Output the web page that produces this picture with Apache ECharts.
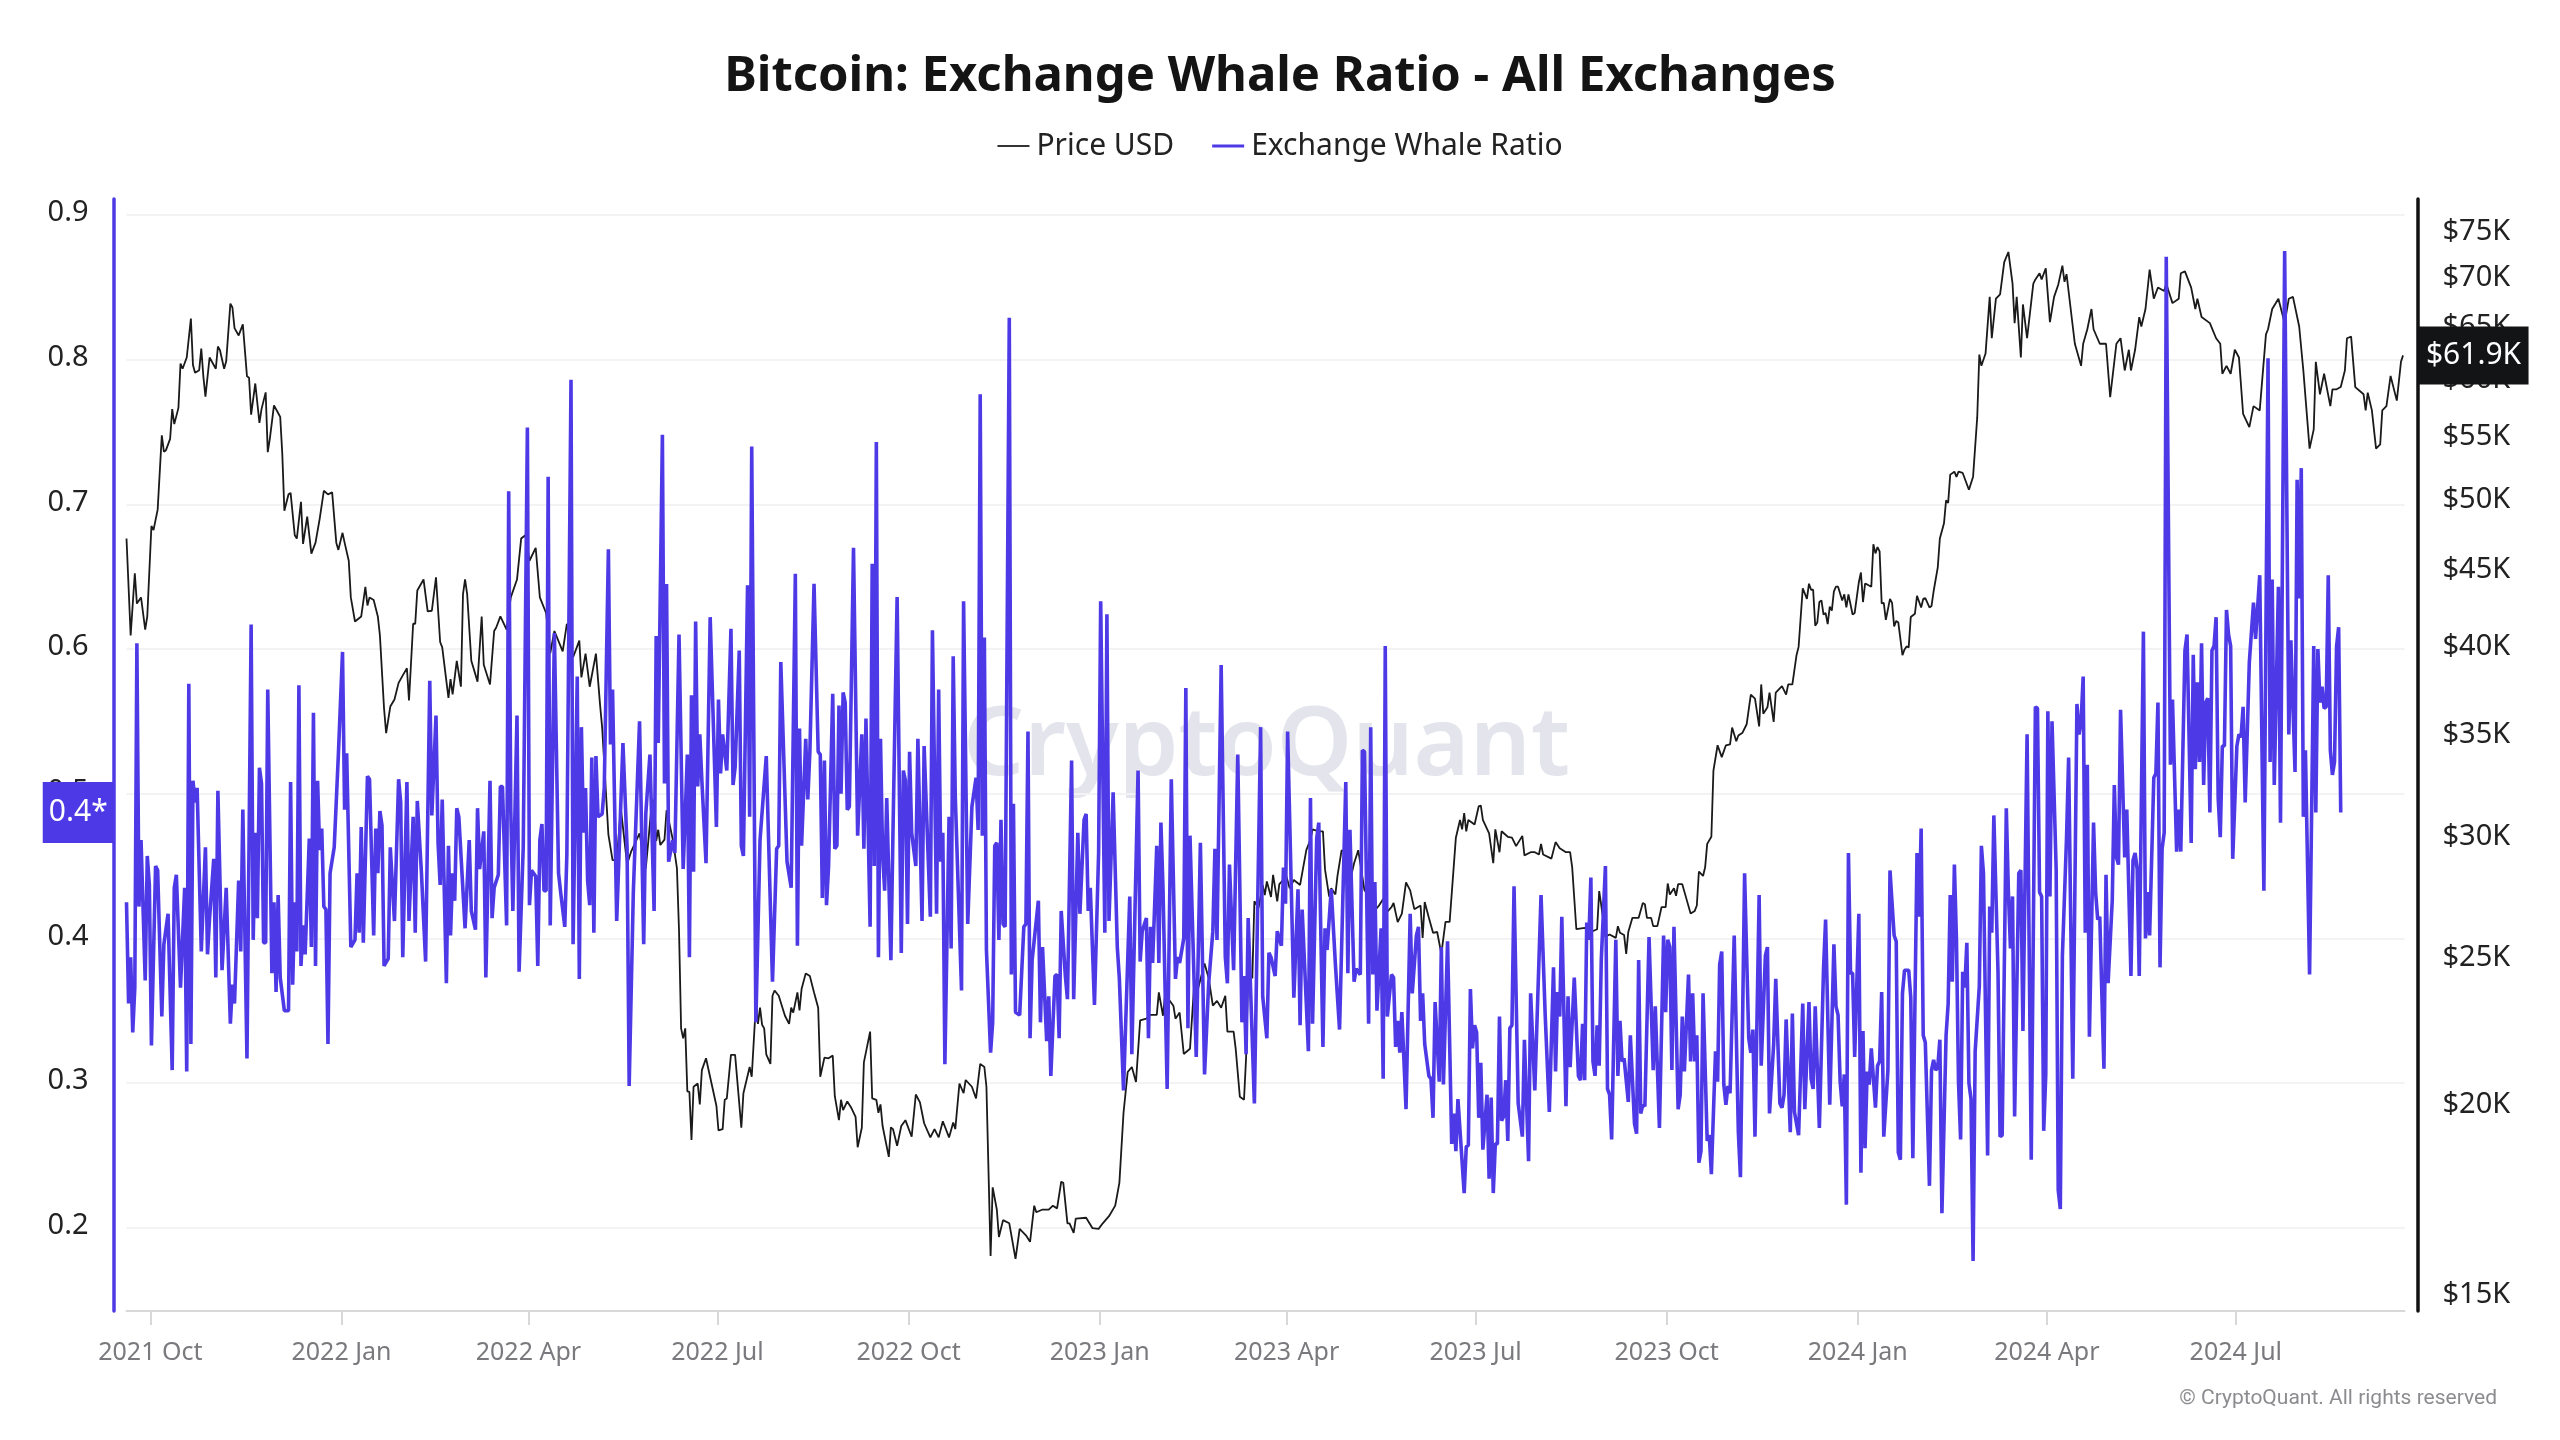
<!DOCTYPE html>
<html><head><meta charset="utf-8"><style>html,body{margin:0;padding:0;background:#fff}#c{width:2560px;height:1440px}</style>
<script src="https://cdn.jsdelivr.net/npm/echarts@6/dist/echarts.min.js"></script></head><body><div id="c"></div>
<script>
const titleText = 'Bitcoin: Exchange Whale Ratio - All Exchanges';
const priceName = 'Price USD';
const ratioName = 'Exchange Whale Ratio';
const tickDates = ['2021-10-01','2022-01-01','2022-04-01','2022-07-01','2022-10-01','2023-01-01','2023-04-01','2023-07-01','2023-10-01','2024-01-01','2024-04-01','2024-07-01'];
const tickLabels = ['2021 Oct','2022 Jan','2022 Apr','2022 Jul','2022 Oct','2023 Jan','2023 Apr','2023 Jul','2023 Oct','2024 Jan','2024 Apr','2024 Jul'];
const ratioTicks = [0.2,0.3,0.4,0.5,0.6,0.7,0.8,0.9];
const priceTicks = [15000,20000,25000,30000,35000,40000,45000,50000,55000,60000,65000,70000,75000];
const startDay = Date.UTC(2021,8,19,12);
// [day since start, whale ratio]
const ratioPoints = [[0,.425],[1,.355],[2,.387],[3,.335],[4,.366],[5,.604],[6,.422],[7,.468],[9,.371],[10,.457],[11,.437],[12,.326],[14,.45],[15,.447],[17,.346],[18,.396],[20,.417],[22,.309],[23,.435],[24,.444],[26,.366],[28,.435],[29,.308],[30,.576],[31,.327],[32,.509],[33,.494],[34,.504],[36,.391],[38,.463],[39,.389],[40,.414],[42,.455],[43,.373],[44,.502],[46,.378],[48,.435],[50,.341],[51,.368],[52,.355],[54,.44],[55,.391],[56,.489],[58,.317],[60,.617],[61,.399],[62,.473],[63,.414],[64,.518],[65,.507],[66,.397],[67,.397],[68,.572],[70,.376],[71,.425],[72,.363],[73,.43],[74,.373],[76,.35],[78,.35],[79,.508],[80,.368],[81,.425],[82,.391],[83,.575],[84,.381],[85,.409],[86,.389],[88,.469],[89,.394],[90,.556],[91,.381],[92,.509],[93,.461],[94,.476],[95,.422],[96,.42],[97,.327],[98,.445],[100,.463],[102,.527],[104,.598],[105,.489],[106,.528],[108,.394],[110,.399],[111,.445],[112,.404],[113,.477],[114,.397],[116,.512],[117,.51],[119,.402],[120,.476],[121,.445],[122,.488],[123,.478],[124,.381],[126,.386],[127,.463],[129,.412],[131,.51],[132,.494],[133,.387],[135,.508],[136,.412],[138,.484],[139,.404],[140,.495],[142,.445],[144,.384],[146,.578],[147,.485],[149,.554],[150,.466],[151,.437],[152,.496],[154,.369],[155,.464],[156,.402],[157,.445],[158,.426],[159,.49],[160,.484],[163,.407],[165,.468],[166,.419],[168,.406],[169,.49],[170,.448],[172,.474],[173,.373],[175,.509],[176,.414],[177,.435],[179,.444],[180,.505],[181,.505],[183,.409],[184,.709],[185,.489],[186,.419],[188,.554],[189,.377],[191,.463],[193,.753],[194,.423],[195,.447],[197,.443],[198,.381],[199,.468],[200,.479],[201,.433],[202,.433],[203,.719],[204,.409],[206,.611],[208,.445],[209,.432],[211,.408],[212,.458],[214,.786],[215,.396],[217,.581],[218,.372],[219,.546],[220,.473],[221,.504],[222,.44],[223,.423],[224,.525],[225,.404],[226,.526],[227,.484],[229,.486],[230,.504],[232,.669],[233,.534],[234,.572],[236,.412],[239,.535],[241,.463],[242,.298],[244,.432],[247,.55],
[249,.396],[250,.486],[252,.527],[254,.419],[255,.609],[256,.535],[258,.748],[259,.507],[260,.645],[261,.453],[263,.468],[264,.459],[266,.61],[268,.448],[269,.486],[270,.527],[271,.387],[272,.568],[273,.446],[274,.619],[275,.505],[276,.541],[277,.509],[279,.452],[281,.622],[284,.477],[285,.565],[286,.514],[287,.541],[289,.516],[291,.614],[292,.506],[293,.518],[295,.599],[296,.464],[297,.457],[299,.644],[300,.484],[301,.74],[303,.342],[305,.468],[308,.526],[311,.37],[313,.462],[314,.464],[315,.591],[318,.453],[320,.435],[322,.652],[323,.395],[324,.545],[325,.464],[327,.538],[328,.496],[329,.529],[331,.645],[333,.529],[334,.527],[335,.428],[336,.523],[337,.423],[338,.45],[340,.569],[341,.462],[342,.464],[343,.561],[344,.5],[345,.57],[346,.563],[347,.489],[348,.491],[350,.67],[352,.471],[354,.541],[355,.462],[356,.552],[358,.408],[359,.659],[360,.45],[361,.743],[362,.387],[363,.538],[364,.459],[365,.433],[366,.497],[368,.385],[369,.473],[371,.636],[373,.39],[374,.516],[375,.509],[376,.41],[377,.529],[378,.473],[380,.45],[381,.538],[383,.412],[384,.533],[387,.415],[388,.613],[390,.417],[391,.572],[392,.453],[393,.473],[394,.313],[396,.484],[397,.393],[398,.595],[399,.498],[402,.364],[403,.633],[405,.41],[407,.491],[409,.511],[410,.475],[411,.776],[412,.471],[413,.608],[414,.392],[416,.321],[417,.342],[418,.464],[419,.466],[420,.399],[421,.482],[422,.41],[423,.408],[425,.829],[426,.375],[427,.493],[428,.349],[430,.347],[432,.408],[433,.41],[434,.543],[435,.331],[436,.385],[439,.426],[440,.342],[441,.394],[443,.329],[444,.36],[445,.305],[447,.374],[448,.375],[449,.331],[450,.419],[452,.374],[453,.358],[455,.523],[456,.358],[458,.473],[459,.417],[461,.482],[462,.486],[463,.419],[464,.435],[466,.354],[468,.459],[469,.633],[471,.404],[472,.624],[473,.412],[475,.501],[477,.394],[478,.372],[480,.295],[483,.429],[484,.32],[487,.516],[488,.384],[489,.405],[491,.414],[492,.331],[493,.408],[494,.383],[496,.464],[497,.383],[498,.48],[499,.435],[501,.296],[503,.51],[505,.372],[506,.387],[507,.383],[509,.4],[510,.573],[511,.338],[512,.471],[515,.318],[517,.466],[519,.306],[521,.369],[523,.405],[524,.462],[525,.399],[527,.589],[529,.387],[530,.369],[531,.451],[533,.378],[535,.527],[537,.342],[538,.374],[539,.32],[540,.414],[541,.372],[543,.286],[546,.546],[547,.36],[549,.331],[550,.39],[551,.387],[553,.374],[554,.405],
[556,.395],[557,.449],[558,.424],[559,.543],[562,.359],[564,.434],[565,.34],[566,.42],[569,.322],[570,.497],[571,.341],[573,.469],[574,.48],[576,.325],[577,.407],[578,.392],[580,.434],[582,.382],[584,.337],[587,.508],[588,.376],[589,.475],[591,.37],[592,.379],[594,.375],[595,.53],[596,.529],[598,.341],[599,.546],[600,.375],[601,.439],[602,.35],[604,.407],[605,.303],[606,.602],[607,.346],[609,.375],[610,.373],[611,.325],[612,.343],[613,.321],[614,.349],[616,.282],[618,.417],[619,.362],[621,.402],[622,.408],[623,.343],[624,.362],[625,.327],[627,.305],[628,.303],[629,.276],[630,.356],[632,.301],[633,.394],[634,.299],[636,.398],[638,.258],[639,.279],[640,.253],[641,.289],[644,.224],[645,.256],[646,.257],[647,.365],[648,.324],[649,.34],[650,.335],[651,.276],[652,.314],[653,.254],[655,.292],[656,.234],[657,.29],[658,.224],[659,.258],[660,.258],[661,.346],[662,.274],[663,.277],[664,.302],[665,.26],[666,.338],[667,.34],[668,.436],[670,.286],[672,.263],[673,.33],[675,.246],[676,.362],[678,.295],[681,.43],[683,.347],[685,.28],[687,.38],[688,.308],[689,.363],[690,.346],[691,.415],[693,.284],[694,.36],[695,.311],[697,.373],[699,.305],[700,.302],[701,.341],[702,.302],[703,.411],[704,.399],[705,.442],[706,.315],[707,.305],[708,.34],[709,.312],[710,.385],[712,.45],[713,.296],[714,.292],[715,.261],[717,.399],[718,.305],[719,.343],[720,.315],[721,.317],[723,.287],[724,.333],[726,.272],[727,.265],[728,.385],[729,.279],[730,.285],[731,.284],[733,.401],[735,.309],[736,.353],[738,.269],[740,.402],[741,.349],[742,.399],[743,.394],[744,.309],[745,.408],[747,.282],[748,.292],[749,.346],[750,.308],[752,.375],[753,.315],[754,.362],[755,.315],[756,.333],[757,.245],[758,.253],[759,.362],[761,.26],[762,.264],[763,.237],[765,.322],[766,.301],[767,.382],[768,.391],[769,.299],[770,.285],[771,.298],[772,.293],[774,.402],[776,.266],[777,.235],[779,.445],[781,.331],[782,.321],[783,.337],[784,.263],[786,.43],[787,.312],[789,.388],[790,.394],[791,.279],[793,.327],[794,.372],[796,.286],[797,.283],[798,.292],[799,.344],[801,.266],[802,.348],[803,.28],[805,.264],[807,.355],[808,.282],[810,.356],[811,.303],[812,.296],[813,.353],[815,.269],[817,.379],[818,.413],[820,.285],[822,.396],[823,.353],[824,.347],[825,.301],[826,.284],[827,.306],[828,.216],[829,.459],[830,.376],[831,.376],[832,.318],[834,.417],[835,.238],[836,.336],[837,.255],[838,.308],[839,.299],[840,.324],[842,.283],[843,.312],[844,.315],[845,.363],[846,.263],[848,.309],[849,.447],[851,.402],[852,.398],[853,.252],[854,.247],[855,.362],[856,.378],[858,.378],[859,.359],[860,.248],[862,.459],[863,.415],
[864,.476],[865,.333],[866,.328],[868,.229],[869,.309],[870,.316],[871,.309],[872,.311],[873,.33],[874,.21],[876,.333],[877,.355],[878,.43],[879,.37],[880,.451],[881,.399],[882,.3],[883,.261],[884,.377],[885,.366],[886,.397],[887,.3],[888,.289],[889,.177],[890,.322],[892,.367],[893,.464],[894,.445],[896,.25],[897,.422],[898,.404],[899,.485],[901,.377],[902,.263],[903,.264],[905,.49],[906,.432],[907,.393],[908,.429],[909,.277],[911,.445],[912,.447],[913,.336],[915,.541],[917,.247],[919,.56],[920,.559],[921,.432],[922,.429],[923,.267],[924,.306],[925,.557],[926,.429],[927,.55],[929,.448],[930,.226],[931,.213],[932,.388],[934,.47],[935,.525],[937,.303],[939,.562],[940,.541],[941,.55],[942,.581],[943,.404],[944,.52],[945,.332],[947,.48],[948,.432],[949,.413],[950,.415],[951,.361],[952,.31],[953,.444],[954,.369],[956,.426],[957,.506],[958,.456],[959,.451],[960,.558],[962,.456],[963,.489],[965,.374],[966,.454],[967,.459],[968,.448],[969,.374],[971,.612],[972,.4],[973,.432],[974,.402],[976,.511],[977,.514],[978,.563],[979,.38],[980,.462],[981,.473],[982,.871],[984,.52],[985,.565],[987,.46],[988,.489],[989,.46],[991,.599],[992,.61],[994,.466],[995,.596],[996,.517],[997,.577],[998,.522],[999,.604],[1000,.506],[1001,.563],[1002,.566],[1003,.487],[1004,.599],[1005,.602],[1006,.622],[1007,.497],[1008,.47],[1009,.533],[1010,.533],[1011,.627],[1012,.61],[1013,.602],[1014,.455],[1016,.533],[1017,.541],[1018,.539],[1019,.56],[1020,.494],[1022,.591],[1024,.632],[1025,.607],[1027,.651],[1029,.433],[1031,.801],[1032,.522],[1033,.648],[1034,.506],[1036,.643],[1037,.48],[1039,.875],[1041,.541],[1042,.606],[1044,.515],[1045,.717],[1046,.635],[1047,.725],[1048,.484],[1049,.53],[1051,.375],[1053,.602],[1054,.487],[1055,.6],[1056,.563],[1057,.574],[1058,.559],[1059,.56],[1060,.651],[1061,.53],[1062,.513],[1063,.522],[1064,.602],[1065,.615],[1066,.487]];
// [day since start, price USD]
const pricePoints = [[0,46900],[2,40500],[4,44500],[5,42500],[7,42900],[9,40850],[10,41680],[12,47800],[13,47500],[15,49000],[17,54840],[18,53500],[19,53620],[21,54550],[22,57060],[23,55780],[25,57170],[26,61140],[27,60660],[29,61700],[31,65450],[32,61000],[33,60300],[35,60530],[36,62550],[37,59970],[38,58150],[40,61700],[43,60660],[44,62740],[45,62390],[47,60660],[48,61350],[50,66950],[51,66560],[52,64510],[54,63800],[56,64880],[58,59970],[59,59840],[60,56590],[62,59320],[64,55890],[65,57060],[67,58530],[68,53460],[69,54550],[71,57380],[73,56730],[74,56400],[75,53320],[76,48920],[78,50150],[79,50260],[81,47140],[82,46900],[84,49590],[85,46520],[87,48480],[89,45840],[91,46610],[93,48320],[95,50420],[97,50150],[99,50300],[101,46610],[102,46100],[104,47310],[105,46610],[107,45350],[108,42900],[110,41360],[113,41680],[115,43590],[116,42380],[117,42900],[119,42730],[121,41680],[122,40500],[124,36240],[125,34930],[127,36360],[129,36750],[131,37690],[133,38120],[135,38530],[136,36700],[138,41220],[139,41220],[140,43350],[143,44080],[145,42000],[147,42040],[149,44230],[151,40100],[152,39770],[155,36840],[156,37900],[157,37040],[159,38970],[161,37470],[162,43120],[163,44080],[164,43120],[166,38970],[169,37760],[171,41680],[172,38740],[175,37600],[177,40770],[178,40990],[180,41680],[183,40850],[185,42900],[188,44080],[190,46900],[192,47140],[194,45350],[197,46250],[199,42900],[202,41900],[204,39420],[206,40770],[210,39530],[212,41220],[215,39180],[218,40180],[219,38000],[221,39400],[223,37470],[226,39400],[228,36440],[229,35220],[232,29950],[234,28810],[236,28810],[238,31150],[241,28640],[243,29200],[247,30000],
[250,28450],[251,29430],[253,31540],[254,31540],[255,29660],[256,30170],[257,29480],[259,29720],[260,31070],[262,30170],[263,29720],[265,28450],[266,25890],[267,22330],[268,22000],[269,22330],[270,20300],[271,20280],[272,18860],[273,20440],[275,20540],[276,19900],[277,20960],[279,21340],[282,20440],[284,19860],[285,19130],[287,19170],[288,20040],[289,20080],[291,21450],[293,21450],[296,19210],[297,20240],[300,21060],[301,20750],[303,23150],[304,22480],[305,23040],[306,22450],[307,22330],[308,21470],[310,21160],[311,23460],[312,23650],[314,23460],[317,22760],[319,22480],[320,23040],[321,22870],[323,23580],[324,22950],[325,23700],[327,24270],[329,24170],[331,23580],[333,23040],[334,20750],[336,21360],[338,21340],[340,21430],[341,20150],[343,19430],[344,20040],[345,19730],[347,19990],[349,19790],[351,19530],[352,18650],[354,19210],[355,21210],[358,22220],[359,20080],[361,20040],[362,19650],[363,19900],[364,19260],[367,18380],[368,19220],[369,19170],[371,18690],[373,19260],[375,19430],[378,18950],[380,20200],[382,19960],[384,19340],[387,18930],[389,19170],[391,18930],[393,19400],[396,18930],[398,19360],[399,19170],[401,20540],[403,20240],[404,20650],[407,20440],[409,20080],[411,21160],[413,21060],[414,20440],[416,15820],[417,17550],[419,16970],[420,16280],[422,16700],[425,16620],[428,15750],[430,16480],[433,16320],[435,16160],[437,17070],[438,16900],[441,16970],[444,16970],[446,17070],[448,17000],[450,17700],[451,17670],[453,16620],[454,16620],[456,16380],[457,16740],[462,16760],[465,16500],[468,16480],[470,16620],[473,16800],[476,17070],[478,17670],[480,19650],[482,20900],[484,21060],[486,20590],[488,22600],[491,22660],[493,22790],[496,22790],[497,23580],[499,22760],[500,23510],[504,23110],[505,22660],[507,22870],[509,21480],[512,21650],[514,23850],[515,23460],[519,24640],[521,24090],[523,23110],[525,23280],[527,23040],[529,23460],[530,22220],[533,22220],[534,21650],[536,20130],[538,20040],[539,21360],[540,24270],[542,24090],[543,27070],[545,26800],[547,27740],[548,27330],[549,27900],[551,27250],[552,28180],[554,27070],
[555,27780],[557,27960],[558,28230],[560,27610],[562,27960],[565,27750],[568,29250],[570,29720],[571,30190],[574,30100],[576,30100],[577,28410],[579,27260],[580,27610],[582,27350],[583,28130],[585,29250],[588,29060],[589,27920],[591,28680],[593,29250],[596,27520],[598,27350],[600,26600],[603,26900],[605,27170],[607,26650],[609,26830],[610,27000],[612,26230],[614,26570],[616,27860],[618,27520],[620,26750],[623,26900],[624,25610],[625,27040],[627,26400],[629,25810],[631,25840],[633,25000],[635,26240],[637,26240],[640,29810],[642,30620],[643,30190],[644,30940],[645,30100],[646,30620],[649,30410],[651,31260],[652,31300],[653,30620],[656,30000],[658,28680],[659,30190],[661,29160],[662,30100],[665,29850],[667,29810],[669,29430],[672,29890],[673,29020],[676,29160],[678,29160],[680,29060],[681,29530],[682,29060],[686,28880],[688,29610],[690,29340],[693,29160],[695,29160],[696,28500],[698,25950],[702,26000],[705,25840],[708,25950],[709,27490],[710,26900],[712,25660],[714,25740],[717,25610],[718,26070],[719,25810],[721,25720],[722,25000],[723,25840],[725,26400],[728,26400],[730,27000],[731,26950],[732,26400],[734,26400],[735,26070],[737,26070],[739,26830],[741,26830],[742,27810],[743,27350],[745,27610],[746,27300],[747,27780],[749,27780],[751,27170],[753,26570],[755,26680],[756,26900],[757,28320],[759,28130],[760,28500],[761,29530],[763,29850],[764,33000],[766,34290],[768,33680],[770,34290],[772,34340],[773,35220],[775,34500],[776,34800],[778,34950],[780,35400],[782,37020],[784,36800],[786,35280],[787,37600],[788,35970],[790,36320],[791,37140],[793,35520],[794,37140],[797,37500],[799,37020],[800,37600],[802,37600],[804,39300],[805,39800],
[807,43500],[809,42800],[810,43800],[811,43400],[812,43400],[813,41100],[814,41300],[815,42600],[816,42700],[817,41800],[818,41900],[819,41200],[820,42300],[821,42050],[822,43300],[823,43600],[824,43600],[826,42700],[827,43100],[828,42250],[829,43100],[831,41800],[832,41900],[834,43900],[835,44550],[836,42600],[837,43800],[838,43750],[840,43600],[841,46500],[842,45860],[843,46300],[844,46000],[845,42510],[846,42550],[847,41460],[849,42800],[850,42550],[851,41050],[852,41400],[853,41300],[855,39300],[856,39650],[857,39830],[858,39770],[859,41640],[861,41850],[862,43000],[864,42250],[865,42800],[866,42850],[868,42250],[869,42350],[870,43300],[872,44900],[873,46900],[875,48000],[876,49700],[877,49500],[878,51670],[880,51900],[881,51500],[882,51900],
[884,51800],[887,50500],[889,51510],[891,56370],[892,61980],[893,60930],[895,62070],[897,67640],[898,63530],[900,67450],[902,67900],[904,71300],[906,72400],[908,69000],[909,65000],[910,67640],[912,61700],[913,66870],[915,63530],[918,69000],[919,69450],[921,70100],[922,69450],[924,70630],[926,65100],[928,67640],[930,68900],[932,70920],[933,69200],[934,70000],[937,64670],[938,63000],[941,60930],[942,63000],[944,64400],[946,66410],[947,64400],[950,63000],[953,63000],[955,58100],[958,63000],[960,63530],[962,60500],[964,62430],[965,60500],[967,62430],[969,65600],[970,64670],[972,66410],[974,70500],[976,67450],[978,68600],[981,68250],[982,69000],[985,67000],[988,67450],[989,70100],[991,70300],[994,68600],[996,66410],[997,67450],[999,65600],[1003,65000],[1006,63530],[1008,63000],[1009,60200],[1011,60930],[1013,60200],[1015,62430],[1017,61700],[1019,56660],[1022,55530],[1024,57320],[1027,56950],[1030,63900],[1031,64400],[1033,66410],[1036,67450],[1039,65000],[1041,67450],[1043,67640],[1046,64670],[1048,60500],[1051,53750],[1053,55340],[1054,61300],[1056,58360],[1058,60200],[1061,57320],[1062,58800],[1064,58800],[1066,59000],[1068,60500],[1069,63530],[1071,63680],[1073,59000],[1077,58360],[1078,56950],[1079,58500],[1081,56950],[1083,53750],[1085,54100],[1086,56950],[1088,57320],[1090,60000],[1093,57800],[1095,61300],[1096,61900]];

const DAY = 86400000;
const toTime = p => [startDay + p[0]*DAY, p[1]];
const priceData = pricePoints.map(toTime);
const ratioData = ratioPoints.map(toTime);
const lastPrice = priceData[priceData.length-1];
const lastRatio = ratioData[ratioData.length-1];
const tickTimes = tickDates.map(s => Date.parse(s+'T00:00:00Z'));
const FONT = '"Noto Sans"';
const BLUE = '#4d3ae6';
const chart = echarts.init(document.getElementById('c'), null, {renderer:'canvas'});
chart.setOption({
  animation:false, backgroundColor:'#fff',
  textStyle:{fontFamily:FONT},
  title:{text:titleText,left:'center',top:48,textStyle:{fontFamily:FONT,fontWeight:700,fontSize:49,color:'#141414'}},
  legend:{top:126,left:'center',itemWidth:32,itemHeight:14,itemGap:38,
    data:[{name:priceName,icon:'path://M0 6H32V8H0Z',itemStyle:{color:'#333'}},{name:ratioName,icon:'path://M0 5.5H32V8.5H0Z',itemStyle:{color:BLUE}}],
    textStyle:{fontFamily:FONT,fontSize:30,color:'#222',padding:[0,0,0,2]}},
  grid:{left:126.5,right:155.5,top:199,bottom:129,containLabel:false},
  xAxis:{type:'value',min:startDay,max:startDay+1096.7*DAY,
    axisLine:{show:true,onZero:false,lineStyle:{color:'#d8d8d8',width:2}},
    axisTick:{show:true,length:14,lineStyle:{color:'#d8d8d8',width:2},customValues:tickTimes},
    splitLine:{show:false},
    axisLabel:{fontFamily:FONT,fontSize:25,color:'#7a7a7e',margin:29,customValues:tickTimes,hideOverlap:false,
      formatter:v=>tickLabels[tickTimes.indexOf(+v)]||''}},
  yAxis:[
   {type:'value',position:'left',offset:13,min:0.1425,max:0.911,
    axisLine:{show:true,lineStyle:{color:BLUE,width:3.5}},axisTick:{show:false,customValues:ratioTicks},
    splitLine:{show:true,lineStyle:{color:'#f3f3f5',width:2}},
    axisLabel:{margin:25,customValues:ratioTicks,formatter:v=>'{a|'+(+v).toFixed(1)+'}',
      rich:{a:{fontFamily:FONT,fontSize:29,color:'#222',padding:[0,0,4,0]}}}},
   {type:'log',position:'right',offset:13,logBase:10,min:14552,max:78450,
    axisLine:{show:true,lineStyle:{color:'#111',width:3.5}},axisTick:{show:false,customValues:priceTicks},
    splitLine:{show:false},minorSplitLine:{show:false},
    axisLabel:{margin:25,customValues:priceTicks,formatter:v=>'{a|$'+Math.round(v/1000)+'K}',
      rich:{a:{fontFamily:FONT,fontSize:29,color:'#222',padding:[7,0,0,0]}}}}
  ],
  graphic:[
    {type:'text',z:0,silent:true,style:{text:'CryptoQuant',x:963,y:700,font:'600 96px "Noto Sans"',fill:'#e4e5ec'}},
    {type:'text',z:10,silent:true,style:{text:'© CryptoQuant. All rights reserved',x:2497,y:1399,textAlign:'right',textVerticalAlign:'middle',font:'21px Roboto',fill:'#8c8c90'}}
  ],
  series:[
    {name:priceName,type:'line',yAxisIndex:1,data:priceData,showSymbol:false,symbol:'none',z:3,lineStyle:{color:'#1a1a1a',width:1.8},itemStyle:{color:'#333'},
     markPoint:{silent:true,animation:false,data:[{coord:lastPrice,symbol:'rect',symbolSize:[110,58],symbolOffset:[70.5,0],itemStyle:{color:'#131416'},
       label:{show:true,position:'inside',formatter:'$61.9K',color:'#fff',fontFamily:FONT,fontSize:30}}]}},
    {name:ratioName,type:'line',yAxisIndex:0,data:ratioData,showSymbol:false,symbol:'none',z:4,lineStyle:{color:BLUE,width:3.6},itemStyle:{color:BLUE},
     markPoint:{silent:true,animation:false,data:[{coord:lastRatio,symbol:'rect',symbolSize:[71,61],symbolOffset:[-2262.5,0],itemStyle:{color:BLUE},
       label:{show:true,position:'inside',formatter:'0.4*',color:'#fff',fontFamily:FONT,fontSize:30}}]}}
  ]
});
</script></body></html>
